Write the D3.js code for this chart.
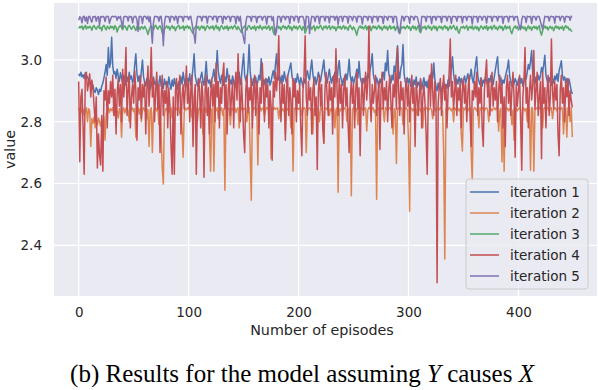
<!DOCTYPE html>
<html>
<head>
<meta charset="utf-8">
<script src="https://cdn.jsdelivr.net/npm/d3@7"></script>
<style>
  html, body { margin: 0; padding: 0; background: #fff; }
  svg { display: block; }
</style>
</head>
<body>
<svg id="chart" width="598" height="390"></svg>
<script>
// iteration 1 (blue)
const iter1 = [
  2.955,2.948,2.960,2.945,2.952,2.940,2.958,2.950,2.944,2.938,
  2.930,2.912,2.905,2.918,2.900,2.895,2.910,2.902,2.888,2.905,
  2.898,2.915,2.925,2.942,2.960,2.985,2.950,3.040,2.975,2.990,
  3.073,2.980,2.955,2.962,2.940,2.970,2.948,2.930,2.958,2.942,
  2.925,2.950,2.935,2.918,2.945,2.930,2.960,2.938,2.948,2.925,
  2.940,2.985,3.020,2.955,2.930,2.948,2.920,2.962,3.000,2.945,
  2.928,2.915,2.940,2.920,2.935,2.905,2.930,2.912,2.945,2.925,
  2.918,2.935,2.902,2.925,2.948,2.915,2.930,2.908,2.938,2.920,
  2.930,2.912,2.945,2.922,2.905,2.935,2.915,2.940,2.918,2.925,
  2.905,2.930,2.918,2.945,2.922,2.960,2.935,2.912,2.925,2.940,
  2.930,2.955,2.918,2.940,2.975,3.020,2.948,2.930,2.915,2.938,
  2.925,2.945,2.960,2.932,2.918,2.950,2.995,2.940,2.925,2.935,
  2.912,2.938,2.948,2.970,2.930,2.958,3.030,2.962,2.940,2.925,
  2.950,2.935,2.918,2.945,2.928,2.972,2.940,2.915,2.935,2.922,
  2.948,2.930,2.910,2.945,2.925,2.938,2.960,2.920,2.942,2.985,
  3.020,2.950,2.935,2.925,2.975,3.050,2.962,2.930,2.918,2.940,
  2.925,2.945,2.915,2.932,2.950,2.935,3.004,2.948,2.920,2.935,
  2.912,2.938,2.925,2.945,2.918,2.930,2.950,2.965,2.940,2.985,
  3.020,2.955,2.935,2.945,2.925,2.950,2.930,2.962,2.940,2.925,
  2.945,2.960,2.975,2.990,2.948,2.932,2.920,2.940,2.928,2.955,
  2.935,2.918,2.942,2.930,2.912,2.938,2.925,2.950,2.965,2.945,
  2.935,2.970,3.000,2.955,2.930,2.945,2.920,2.938,2.960,2.942,
  2.930,2.955,2.975,3.000,2.950,2.935,2.925,2.948,2.970,2.940,
  2.925,2.945,2.930,2.960,2.942,2.928,2.975,2.998,2.950,2.935,
  2.918,2.940,2.925,2.955,2.935,2.960,3.002,2.948,2.930,2.945,
  2.922,2.938,2.950,2.970,2.942,2.995,2.945,2.930,2.918,2.940,
  2.925,2.948,2.930,2.955,2.942,2.968,2.985,3.020,2.952,2.935,
  2.920,2.942,2.930,2.912,2.938,2.925,2.948,2.960,2.935,2.990,
  2.965,3.030,2.958,2.940,2.925,2.950,2.935,2.980,2.962,2.998,
  3.046,2.960,2.940,2.972,2.985,3.050,2.955,2.930,2.918,2.942,
  2.925,2.940,2.915,2.930,2.908,2.935,2.920,2.945,2.912,2.928,
  2.918,2.935,2.905,2.925,2.942,2.915,2.930,2.910,2.935,2.922,
  2.948,2.960,2.940,2.990,2.935,2.915,2.900,2.925,2.905,2.918,
  2.895,2.912,2.930,2.902,2.920,2.908,2.935,2.915,2.948,2.970,
  3.010,2.955,2.930,2.915,2.938,2.922,2.945,2.928,2.940,2.918,
  2.935,2.948,2.925,2.940,2.955,2.930,2.945,2.970,2.938,2.925,
  2.955,2.985,3.010,2.948,2.930,2.920,2.942,2.915,2.935,2.925,
  2.945,2.930,2.918,2.940,2.928,2.950,2.935,2.920,2.945,2.968,
  2.990,3.010,2.950,2.930,2.942,2.918,2.935,2.925,2.945,2.960,
  2.975,3.000,2.948,2.930,2.915,2.938,2.922,2.940,2.930,2.918,
  2.935,2.945,2.925,2.940,2.915,2.932,2.950,2.938,2.960,2.985,
  2.970,2.995,3.030,2.955,2.938,2.922,2.945,2.930,2.950,2.935,
  2.948,2.975,2.960,2.985,3.015,2.950,2.935,2.920,2.942,2.930,
  2.918,2.940,2.925,2.948,2.935,2.955,2.930,2.965,2.980,2.997,
  2.950,2.935,2.945,2.925,2.940,2.915,2.938,2.920,2.900,2.890
];

// iteration 2 (orange)
const iter2 = [
  2.843,2.835,2.845,2.830,2.840,2.820,2.838,2.845,2.800,2.842,
  2.835,2.720,2.810,2.795,2.815,2.780,2.805,2.790,2.812,2.800,
  2.785,2.808,2.795,2.815,2.740,2.825,2.838,2.845,2.830,2.842,
  2.836,2.845,2.820,2.840,2.846,2.835,2.812,2.843,2.830,2.750,
  2.838,2.845,2.828,2.842,2.846,2.835,2.800,2.844,2.838,2.845,
  2.832,2.842,2.750,2.838,2.846,2.825,2.843,2.800,2.840,2.845,
  2.835,2.843,2.810,2.840,2.720,2.838,2.845,2.700,2.830,2.842,
  2.846,2.835,2.843,2.790,2.840,2.760,2.650,2.598,2.820,2.843,
  2.838,2.845,2.830,2.842,2.846,2.812,2.838,2.845,2.835,2.843,
  2.840,2.846,2.825,2.838,2.780,2.685,2.830,2.845,2.838,2.843,
  2.846,2.835,2.842,2.815,2.838,2.845,2.832,2.843,2.800,2.840,
  2.845,2.836,2.842,2.760,2.838,2.846,2.830,2.843,2.845,2.750,
  2.640,2.838,2.845,2.640,2.842,2.836,2.845,2.810,2.843,2.838,
  2.845,2.820,2.842,2.578,2.835,2.846,2.840,2.843,2.790,2.845,
  2.838,2.843,2.846,2.830,2.842,2.845,2.780,2.838,2.846,2.835,
  2.843,2.840,2.845,2.800,2.838,2.846,2.700,2.546,2.830,2.843,
  2.845,2.838,2.843,2.660,2.840,2.846,2.835,2.843,2.845,2.820,
  2.838,2.846,2.842,2.835,2.843,2.680,2.845,2.838,2.846,2.840,
  2.843,2.845,2.810,2.838,2.846,2.842,2.835,2.843,2.760,2.845,
  2.838,2.846,2.842,2.780,2.835,2.640,2.843,2.845,2.838,2.846,
  2.840,2.843,2.845,2.820,2.838,2.846,2.842,2.700,2.835,2.843,
  2.845,2.838,2.846,2.760,2.842,2.835,2.843,2.845,2.838,2.800,
  2.846,2.842,2.835,2.730,2.843,2.845,2.838,2.846,2.820,2.842,
  2.835,2.843,2.845,2.780,2.838,2.846,2.572,2.842,2.835,2.843,
  2.845,2.838,2.846,2.842,2.800,2.835,2.843,2.845,2.560,2.838,
  2.846,2.842,2.835,2.843,2.790,2.845,2.838,2.846,2.842,2.835,
  2.843,2.845,2.770,2.838,2.846,2.842,2.835,2.843,2.845,2.830,
  2.838,2.549,2.846,2.842,2.835,2.843,2.845,2.838,2.800,2.846,
  2.842,2.835,2.843,2.845,2.838,2.846,2.760,2.842,2.835,2.665,
  2.843,2.845,2.838,2.846,2.842,2.790,2.835,2.843,2.845,2.838,
  2.740,2.510,2.846,2.842,2.835,2.843,2.845,2.838,2.820,2.846,
  2.842,2.835,2.843,2.780,2.845,2.838,2.846,2.842,2.835,2.843,
  2.845,2.838,2.810,2.846,2.842,2.835,2.843,2.845,2.838,2.846,
  2.842,2.835,2.700,2.356,2.843,2.845,2.838,2.846,2.842,2.835,
  2.843,2.800,2.845,2.838,2.846,2.842,2.835,2.843,2.760,2.705,
  2.845,2.838,2.846,2.842,2.835,2.843,2.845,2.700,2.610,2.838,
  2.846,2.842,2.835,2.843,2.780,2.845,2.838,2.846,2.842,2.835,
  2.843,2.845,2.838,2.800,2.846,2.842,2.835,2.843,2.845,2.838,
  2.846,2.842,2.770,2.835,2.843,2.670,2.845,2.640,2.838,2.846,
  2.842,2.835,2.843,2.845,2.790,2.838,2.740,2.846,2.842,2.835,
  2.843,2.845,2.838,2.760,2.846,2.842,2.835,2.843,2.800,2.845,
  2.838,2.643,2.846,2.842,2.640,2.835,2.843,2.845,2.838,2.846,
  2.842,2.835,2.780,2.843,2.845,2.838,2.846,2.842,2.835,2.843,
  2.845,2.810,2.838,2.846,2.842,2.835,2.843,2.845,2.838,2.846,
  2.842,2.760,2.835,2.843,2.750,2.845,2.838,2.800,2.846,2.750
];

// iteration 3 (green)
const iter3 = [
  3.102,3.108,3.104,3.110,3.098,3.106,3.112,3.100,3.107,3.103,
  3.109,3.105,3.096,3.108,3.111,3.104,3.099,3.107,3.110,3.102,
  3.106,3.094,3.108,3.112,3.103,3.097,3.109,3.105,3.100,3.110,
  3.104,3.108,3.098,3.111,3.106,3.090,3.102,3.108,3.112,3.104,
  3.098,3.107,3.110,3.103,3.096,3.108,3.112,3.105,3.099,3.106,
  3.110,3.102,3.095,3.107,3.111,3.104,3.098,3.108,3.105,3.100,
  3.109,3.103,3.094,3.082,3.096,3.106,3.110,3.103,3.097,3.108,
  3.112,3.104,3.099,3.107,3.110,3.102,3.088,3.080,3.098,3.106,
  3.110,3.103,3.108,3.097,3.105,3.111,3.102,3.107,3.094,3.104,
  3.109,3.112,3.100,3.106,3.103,3.110,3.096,3.108,3.104,3.111,
  3.102,3.107,3.098,3.092,3.085,3.100,3.106,3.111,3.103,3.108,
  3.097,3.105,3.110,3.102,3.108,3.095,3.104,3.111,3.106,3.100,
  3.108,3.103,3.110,3.097,3.105,3.112,3.101,3.107,3.094,3.106,
  3.111,3.104,3.099,3.108,3.102,3.110,3.096,3.106,3.103,3.109,
  3.100,3.107,3.112,3.104,3.098,3.108,3.102,3.095,3.088,3.100,
  3.106,3.110,3.103,3.097,3.108,3.111,3.104,3.099,3.107,3.102,
  3.110,3.095,3.106,3.108,3.101,3.112,3.104,3.098,3.107,3.103,
  3.109,3.100,3.105,3.111,3.096,3.104,3.108,3.090,3.082,3.098,
  3.106,3.110,3.102,3.107,3.097,3.105,3.111,3.103,3.108,3.099,
  3.106,3.112,3.101,3.107,3.095,3.104,3.110,3.102,3.108,3.098,
  3.105,3.111,3.103,3.096,3.108,3.104,3.086,3.097,3.107,3.110,
  3.102,3.108,3.099,3.106,3.111,3.094,3.105,3.109,3.101,3.107,
  3.112,3.103,3.097,3.108,3.104,3.110,3.100,3.106,3.111,3.098,
  3.105,3.109,3.102,3.107,3.094,3.104,3.110,3.103,3.108,3.099,
  3.106,3.111,3.100,3.107,3.103,3.096,3.108,3.112,3.104,3.098,
  3.107,3.102,3.091,3.080,3.097,3.106,3.110,3.103,3.108,3.100,
  3.105,3.111,3.097,3.107,3.102,3.109,3.094,3.104,3.110,3.103,
  3.108,3.099,3.106,3.112,3.101,3.107,3.096,3.104,3.110,3.102,
  3.108,3.097,3.105,3.111,3.100,3.106,3.103,3.109,3.095,3.104,
  3.110,3.090,3.086,3.098,3.107,3.103,3.108,3.100,3.106,3.111,
  3.102,3.107,3.095,3.104,3.110,3.101,3.108,3.097,3.105,3.111,
  3.093,3.088,3.100,3.107,3.103,3.109,3.098,3.106,3.111,3.102,
  3.107,3.096,3.104,3.110,3.101,3.108,3.094,3.105,3.109,3.103,
  3.108,3.098,3.106,3.111,3.102,3.107,3.095,3.104,3.110,3.100,
  3.106,3.112,3.103,3.097,3.108,3.092,3.086,3.100,3.107,3.104,
  3.109,3.101,3.106,3.111,3.096,3.105,3.108,3.102,3.110,3.098,
  3.104,3.109,3.100,3.107,3.094,3.103,3.110,3.105,3.099,3.108,
  3.102,3.111,3.096,3.106,3.103,3.109,3.098,3.107,3.112,3.101,
  3.106,3.097,3.105,3.110,3.102,3.108,3.095,3.104,3.111,3.100,
  3.107,3.103,3.109,3.092,3.085,3.098,3.106,3.110,3.102,3.108,
  3.097,3.105,3.111,3.103,3.108,3.100,3.106,3.094,3.104,3.110,
  3.101,3.107,3.096,3.105,3.109,3.102,3.108,3.098,3.106,3.111,
  3.090,3.080,3.095,3.104,3.110,3.102,3.107,3.097,3.105,3.109,
  3.101,3.106,3.094,3.104,3.110,3.103,3.108,3.099,3.106,3.102,
  3.109,3.096,3.105,3.111,3.103,3.107,3.098,3.100,3.094,3.092
];

// iteration 4 (red)
const iter4 = [
  2.930,2.670,2.880,2.905,2.780,2.630,2.950,2.960,2.900,2.925,
  2.955,2.880,2.935,2.910,2.850,2.800,2.880,2.650,2.760,2.690,
  2.660,2.820,2.640,2.900,2.870,2.945,2.780,2.900,2.860,2.930,
  2.880,2.950,2.820,2.905,2.760,2.890,2.940,2.850,2.920,2.800,
  2.970,2.880,2.930,3.040,2.820,2.900,2.950,2.780,2.880,2.920,
  2.860,2.965,2.900,2.740,2.910,2.870,2.950,2.810,2.920,2.880,
  2.930,2.760,2.900,2.980,2.850,2.920,3.040,2.880,2.940,2.800,
  2.900,2.960,2.840,2.920,2.700,2.880,2.950,2.820,2.900,2.860,
  2.930,2.780,2.910,2.850,2.720,2.630,2.880,2.630,2.900,2.940,
  2.820,2.900,2.950,2.760,2.880,2.920,2.840,2.910,2.980,2.860,
  2.930,2.800,2.900,2.950,2.720,2.880,2.920,2.630,2.860,2.940,
  2.900,2.780,2.930,2.880,2.620,2.900,2.950,2.820,2.910,2.760,
  2.880,2.940,2.850,2.920,2.800,2.990,2.880,2.930,2.780,2.910,
  2.860,2.950,2.990,2.840,2.920,2.760,2.900,2.950,2.820,2.880,
  2.930,2.780,2.910,2.960,2.870,3.020,2.900,2.800,2.940,2.860,
  2.760,2.700,2.900,2.950,2.830,2.910,2.870,2.940,2.780,2.900,
  2.950,2.820,2.930,2.880,2.760,2.910,2.860,2.990,2.900,2.800,
  2.940,2.880,2.920,2.780,2.900,2.850,2.675,2.930,2.880,2.960,
  2.900,2.960,3.078,2.880,2.800,2.930,2.860,2.920,2.740,2.900,
  2.950,2.820,2.910,2.870,2.760,2.940,2.880,2.930,2.800,2.900,
  2.860,2.920,2.780,2.690,2.900,2.950,3.078,2.880,2.820,2.930,
  2.870,2.910,2.760,2.900,2.940,2.820,2.880,2.645,2.900,2.950,
  2.850,2.920,2.780,2.730,2.900,2.960,2.880,2.820,2.930,2.870,
  2.910,2.760,2.950,2.880,3.036,2.900,2.820,2.940,2.860,2.920,
  2.780,2.900,2.950,2.850,2.910,2.800,2.700,2.880,2.930,2.860,
  2.920,2.780,2.900,2.960,2.840,2.910,2.690,2.880,2.940,2.820,
  2.900,2.960,2.870,2.930,3.110,2.880,2.800,2.920,2.860,2.900,
  2.950,2.820,2.880,2.930,2.710,2.900,2.960,2.840,2.910,2.870,
  2.930,2.800,2.900,2.950,2.860,2.780,2.920,2.880,2.960,2.840,
  3.040,2.900,2.820,2.930,2.870,2.910,2.760,2.900,2.940,2.850,
  2.920,2.800,2.880,2.950,2.860,2.910,2.720,2.930,2.880,2.820,
  2.900,2.940,2.780,2.880,2.920,2.860,2.760,2.630,2.900,2.950,
  2.850,2.987,2.900,2.820,2.930,2.880,2.279,2.860,2.910,2.940,
  2.820,2.900,2.950,2.870,2.920,2.780,2.900,2.960,3.068,2.880,
  2.930,2.840,2.900,2.950,2.820,2.910,2.870,2.930,2.780,2.900,
  2.940,2.860,2.920,2.800,2.890,2.950,2.830,2.720,2.900,2.870,
  2.930,2.880,2.960,2.820,2.910,2.860,2.940,2.780,2.720,2.900,
  2.950,3.000,2.880,2.930,2.820,2.900,2.960,2.850,2.910,2.870,
  2.930,2.800,2.900,2.950,2.860,2.920,2.780,2.880,2.720,2.910,
  2.950,2.860,2.930,2.820,2.900,2.960,2.880,2.685,2.920,2.850,
  2.900,2.950,2.800,2.643,2.880,2.930,3.040,2.860,2.910,2.780,
  2.900,2.950,2.870,2.920,3.030,2.840,2.900,2.960,2.820,2.880,
  2.930,2.680,2.960,2.860,2.910,2.780,2.900,2.950,2.820,2.880,
  3.068,2.900,2.840,2.930,2.870,2.920,2.760,2.690,2.900,2.950,
  2.860,2.910,2.800,2.930,2.880,2.940,2.820,2.900,2.870,2.846
];

// iteration 5 (purple)
const iter5 = [
  3.128,3.140,3.136,3.120,3.140,3.141,3.126,3.139,3.118,3.140,
  3.141,3.130,3.122,3.140,3.139,3.141,3.125,3.138,3.140,3.112,
  3.140,3.138,3.141,3.139,3.124,3.140,3.141,3.140,3.118,3.131,
  3.140,3.141,3.139,3.141,3.140,3.128,3.140,3.135,3.141,3.121,
  3.104,3.139,3.141,3.140,3.140,3.126,3.141,3.139,3.140,3.120,
  3.138,3.141,3.140,3.130,3.092,3.140,3.141,3.139,3.118,3.140,
  3.141,3.140,3.132,3.141,3.124,3.140,3.100,3.054,3.120,3.140,
  3.141,3.139,3.140,3.125,3.140,3.141,3.110,3.046,3.118,3.140,
  3.141,3.139,3.140,3.122,3.141,3.140,3.139,3.128,3.141,3.140,
  3.118,3.140,3.141,3.139,3.140,3.124,3.141,3.140,3.139,3.141,
  3.130,3.140,3.141,3.120,3.098,3.080,3.054,3.112,3.140,3.141,
  3.139,3.140,3.126,3.141,3.140,3.138,3.141,3.119,3.140,3.141,
  3.140,3.139,3.129,3.141,3.140,3.141,3.122,3.140,3.139,3.141,
  3.140,3.118,3.141,3.140,3.131,3.139,3.141,3.140,3.124,3.140,
  3.141,3.139,3.140,3.117,3.141,3.140,3.126,3.141,3.108,3.090,
  3.070,3.053,3.120,3.140,3.141,3.139,3.140,3.125,3.141,3.140,
  3.139,3.141,3.121,3.140,3.138,3.141,3.140,3.128,3.139,3.141,
  3.140,3.116,3.141,3.139,3.140,3.141,3.127,3.140,3.100,3.080,
  3.095,3.140,3.141,3.139,3.122,3.140,3.141,3.140,3.130,3.141,
  3.139,3.140,3.118,3.141,3.140,3.139,3.126,3.141,3.140,3.141,
  3.121,3.140,3.139,3.141,3.140,3.128,3.100,3.141,3.140,3.139,
  3.085,3.120,3.141,3.140,3.139,3.124,3.141,3.140,3.141,3.117,
  3.140,3.139,3.141,3.140,3.126,3.141,3.139,3.140,3.120,3.141,
  3.140,3.139,3.141,3.128,3.140,3.141,3.115,3.139,3.140,3.141,
  3.124,3.140,3.141,3.139,3.140,3.119,3.141,3.140,3.139,3.127,
  3.141,3.140,3.139,3.122,3.141,3.140,3.141,3.139,3.116,3.140,
  3.141,3.139,3.140,3.127,3.141,3.140,3.139,3.120,3.141,3.140,
  3.139,3.141,3.124,3.140,3.141,3.139,3.140,3.118,3.141,3.140,
  3.139,3.128,3.141,3.140,3.139,3.141,3.121,3.140,3.141,3.139,
  3.110,3.100,3.085,3.120,3.141,3.140,3.126,3.139,3.141,3.140,
  3.139,3.118,3.141,3.140,3.139,3.129,3.141,3.140,3.139,3.123,
  3.110,3.095,3.140,3.141,3.139,3.140,3.124,3.141,3.140,3.139,
  3.141,3.117,3.140,3.139,3.141,3.128,3.140,3.141,3.139,3.140,
  3.121,3.141,3.140,3.139,3.141,3.126,3.140,3.141,3.139,3.118,
  3.140,3.141,3.139,3.140,3.125,3.141,3.140,3.139,3.141,3.120,
  3.140,3.139,3.141,3.127,3.140,3.141,3.139,3.140,3.116,3.141,
  3.140,3.139,3.141,3.122,3.140,3.141,3.139,3.128,3.140,3.141,
  3.139,3.119,3.141,3.140,3.139,3.141,3.124,3.140,3.141,3.139,
  3.140,3.126,3.141,3.139,3.140,3.141,3.118,3.140,3.139,3.141,
  3.140,3.123,3.141,3.139,3.140,3.141,3.127,3.140,3.139,3.141,
  3.120,3.105,3.098,3.130,3.141,3.140,3.139,3.121,3.141,3.140,
  3.139,3.141,3.118,3.140,3.141,3.139,3.128,3.140,3.141,3.139,
  3.124,3.112,3.100,3.120,3.141,3.140,3.139,3.141,3.126,3.140,
  3.141,3.139,3.140,3.119,3.141,3.140,3.139,3.141,3.127,3.140,
  3.141,3.139,3.122,3.140,3.141,3.139,3.140,3.128,3.141,3.140
];

const seriesNames = ['iteration 1', 'iteration 2', 'iteration 3', 'iteration 4', 'iteration 5'];
const seriesColors = ['#4c72b0', '#dd8452', '#55a868', '#c44e52', '#8172b3'];
const xTicks = [0, 100, 200, 300, 400];
const yTicks = [2.4, 2.6, 2.8, 3.0];

const allSeries = [iter1, iter2, iter3, iter4, iter5];

const svg = d3.select('#chart');
const font = '"DejaVu Sans", sans-serif';

// plot area
const plot = { left: 54, right: 597, top: 3, bottom: 296 };

const n = iter1.length;
const xPad = (n - 1) * 0.05;
const x = d3.scaleLinear().domain([-xPad, n - 1 + xPad]).range([plot.left, plot.right]);

const yMin = d3.min(allSeries, s => d3.min(s));
const yMax = d3.max(allSeries, s => d3.max(s));
const yPad = (yMax - yMin) * 0.05;
const y = d3.scaleLinear().domain([yMin - yPad, yMax + yPad]).range([plot.bottom, plot.top]);

svg.append('rect')
  .attr('x', plot.left).attr('y', plot.top)
  .attr('width', plot.right - plot.left).attr('height', plot.bottom - plot.top)
  .attr('fill', '#eaeaf2');

// grid lines
const grid = svg.append('g');
grid.selectAll('.gx').data(xTicks).join('line')
  .attr('x1', d => x(d)).attr('x2', d => x(d))
  .attr('y1', plot.top).attr('y2', plot.bottom)
  .attr('stroke', '#fff').attr('stroke-width', 1.2);
grid.selectAll('.gy').data(yTicks).join('line')
  .attr('x1', plot.left).attr('x2', plot.right)
  .attr('y1', d => y(d)).attr('y2', d => y(d))
  .attr('stroke', '#fff').attr('stroke-width', 1.2);

// axes (seaborn darkgrid: no spines, no tick marks)
const xAxis = svg.append('g')
  .attr('transform', `translate(0,${plot.bottom})`)
  .call(d3.axisBottom(x).tickValues(xTicks).tickSize(0).tickPadding(11).tickFormat(d3.format('d')));
const yAxis = svg.append('g')
  .attr('transform', `translate(${plot.left},0)`)
  .call(d3.axisLeft(y).tickValues(yTicks).tickSize(0).tickPadding(12).tickFormat(d3.format('.1f')));
[xAxis, yAxis].forEach(a => {
  a.select('.domain').remove();
  a.selectAll('text')
    .attr('fill', '#262626')
    .style('font-family', font)
    .style('font-size', '13.5px');
});

// lines
svg.append('clipPath').attr('id', 'plotclip')
  .append('rect')
  .attr('x', plot.left).attr('y', plot.top)
  .attr('width', plot.right - plot.left).attr('height', plot.bottom - plot.top);

const line = d3.line()
  .x((d, i) => x(i))
  .y(d => y(d));

svg.append('g').attr('clip-path', 'url(#plotclip)')
  .selectAll('path')
  .data(allSeries)
  .join('path')
  .attr('d', line)
  .attr('fill', 'none')
  .attr('stroke', (d, i) => seriesColors[i])
  .attr('stroke-width', 1.5)
  .attr('stroke-linejoin', 'round');

// axis labels
svg.append('text')
  .attr('x', 322).attr('y', 335)
  .attr('text-anchor', 'middle')
  .attr('fill', '#262626')
  .style('font-family', font).style('font-size', '14.3px')
  .text('Number of episodes');

svg.append('text')
  .attr('transform', `translate(15,${(plot.top + plot.bottom) / 2}) rotate(-90)`)
  .attr('text-anchor', 'middle')
  .attr('fill', '#262626')
  .style('font-family', font).style('font-size', '14.3px')
  .text('value');

// legend
const legend = svg.append('g').attr('transform', 'translate(466,179)');
legend.append('rect')
  .attr('width', 122).attr('height', 110)
  .attr('rx', 3)
  .attr('fill', '#eaeaf2').attr('fill-opacity', 0.8)
  .attr('stroke', '#cccccc').attr('stroke-width', 1);
const items = legend.selectAll('.item').data(seriesNames).join('g')
  .attr('transform', (d, i) => `translate(0,${13 + i * 21})`);
items.append('line')
  .attr('x1', 4).attr('x2', 33)
  .attr('stroke', (d, i) => seriesColors[i])
  .attr('stroke-width', 1.5);
items.append('text')
  .attr('x', 44).attr('dy', '0.35em')
  .attr('fill', '#262626')
  .style('font-family', font).style('font-size', '13.5px')
  .text(d => d);

// caption
const cap = svg.append('text')
  .attr('x', 302).attr('y', 382)
  .attr('text-anchor', 'middle')
  .attr('fill', '#000')
  .style('font-family', '"Liberation Serif", "Times New Roman", serif')
  .style('font-size', '25px');
cap.append('tspan').text('(b) Results for the model assuming ');
cap.append('tspan').style('font-style', 'italic').text('Y');
cap.append('tspan').text(' causes ');
cap.append('tspan').style('font-style', 'italic').text('X');
</script>
</body>
</html>
